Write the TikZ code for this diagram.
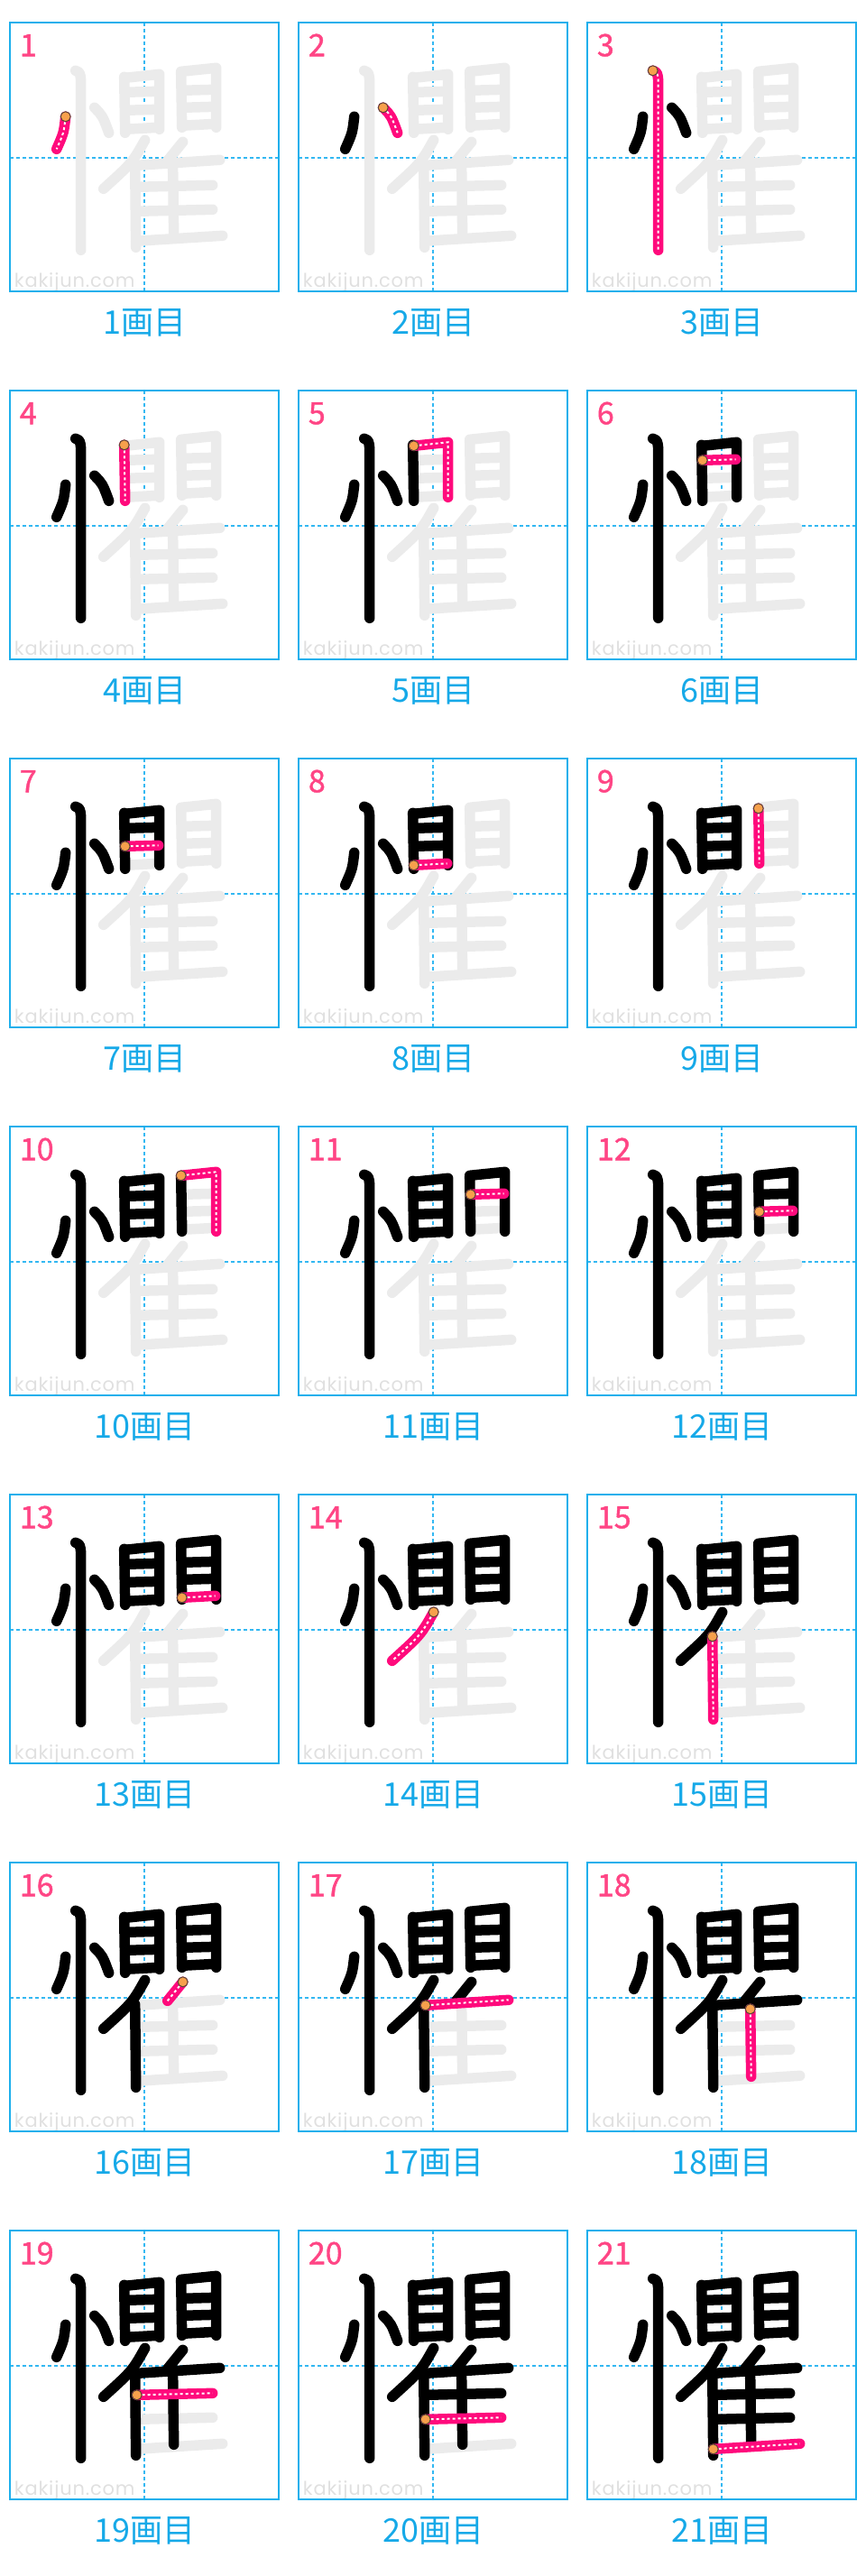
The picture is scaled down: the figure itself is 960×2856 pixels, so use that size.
\documentclass[tikz,border=0pt]{standalone}
\usepackage{fontspec}
\newfontfamily\jpfont{Noto Sans CJK JP}
\newfontfamily\numfont[FakeBold=1.2]{Noto Sans CJK JP}
\newfontfamily\wmfont[LetterSpace=4]{Poppins}

\definecolor{boxblue}{HTML}{1DAFEC}
\definecolor{guideblue}{HTML}{33B8F2}
\definecolor{capblue}{HTML}{16A9E8}
\definecolor{numpink}{HTML}{FF4585}
\definecolor{strokepink}{HTML}{FF0A7C}
\definecolor{ghostgray}{HTML}{EBEBEB}
\definecolor{wmgray}{HTML}{E0E0E0}
\definecolor{startorange}{HTML}{F7A04C}
\definecolor{dotrim}{HTML}{5A4636}

% one path per stroke, cell coordinates (0..298, y down)
\newcommand\defstroke[2]{\expandafter\def\csname kstroke#1\endcsname{#2}}
\defstroke{1}{(62,104) coordinate (st) .. controls (60,122) .. (52,140)}
\defstroke{2}{(94,94) coordinate (st) .. controls (103,103) .. (110,122)}
\defstroke{3}{(73,53) coordinate (st) .. controls (78,55) .. (79,64) -- (79,252)}
\defstroke{4}{(127,60) coordinate (st) -- (128,122)}
\defstroke{5}{(128,61) coordinate (st) -- (166,57) -- (166,118)}
\defstroke{6}{(128,77) coordinate (st) -- (165,76)}
\defstroke{7}{(128,97) coordinate (st) -- (165,96)}
\defstroke{8}{(128,118) coordinate (st) -- (165,116)}
\defstroke{9}{(190,55) coordinate (st) -- (191,116)}
\defstroke{10}{(190,54) coordinate (st) -- (229,50) -- (229,116)}
\defstroke{11}{(191,75) coordinate (st) -- (228,74)}
\defstroke{12}{(191,94) coordinate (st) -- (228,93)}
\defstroke{13}{(191,114) coordinate (st) -- (228,112)}
\defstroke{14}{(150,130) coordinate (st) .. controls (136,155) .. (104,184)}
\defstroke{15}{(139,157) coordinate (st) -- (140,249)}
\defstroke{16}{(192,132) coordinate (st) -- (175,153)}
\defstroke{17}{(141,158) coordinate (st) -- (233,152)}
\defstroke{18}{(181,162) coordinate (st) -- (182,237)}
\defstroke{19}{(141,182) coordinate (st) -- (225,180)}
\defstroke{20}{(141,209) coordinate (st) -- (225,207)}
\defstroke{21}{(140,242) coordinate (st) -- (236,236)}

\tikzset{
  cellbox/.style={draw=boxblue, line width=2pt},
  guide/.style={draw=guideblue, line width=1.8pt, dash pattern=on 4pt off 3pt},
  ghost/.style={draw=ghostgray, line width=11.5pt, line cap=round, line join=round},
  done/.style={draw=black, line width=11.5pt, line cap=round, line join=round},
  current/.style={draw=strokepink, line width=11.5pt, line cap=round, line join=round},
  dots/.style={draw=white, line width=2pt, dash pattern=on 3pt off 3pt},
  startdot/.style={fill=startorange, draw=dotrim, line width=1pt},
  stepnum/.style={anchor=base west, inner sep=0pt, text=numpink, font=\numfont\fontsize{34}{40}\selectfont},
  caption/.style={inner sep=0pt, text=capblue, font=\jpfont\fontsize{36}{42}\selectfont},
  watermark/.style={anchor=base west, inner sep=0pt, text=wmgray, font=\wmfont\fontsize{21}{25}\selectfont}
}

\begin{document}
\begin{tikzpicture}[x=1pt,y=-1pt]
  \useasboundingbox (0,0) rectangle (960,2856);

  \foreach \n in {1,...,21}{
    \pgfmathtruncatemacro\row{(\n-1)/3}
    \pgfmathtruncatemacro\col{\n-1-3*\row}
    \begin{scope}[shift={(10.7+320*\col,25.3+408*\row)}]
      % guide lines and watermark
      \draw[guide] (149.5,0) -- (149.5,298);
      \draw[guide] (0,149.5) -- (298,149.5);
      \node[watermark] (wm\n) at (5,293) {kakijun.com};

      % strokes still to come, then strokes already written
      \foreach \k in {1,...,21}{
        \expandafter\let\expandafter\kpath\csname kstroke\k\endcsname
        \ifnum\k>\n \draw[ghost] \kpath; \fi
      }
      \foreach \k in {1,...,21}{
        \expandafter\let\expandafter\kpath\csname kstroke\k\endcsname
        \ifnum\k<\n \draw[done] \kpath; \fi
      }

      % the stroke of this step
      \expandafter\let\expandafter\kpath\csname kstroke\n\endcsname
      \draw[current] \kpath;
      \draw[dots] \kpath;
      \filldraw[startdot] (st) circle (5.5);

      \draw[cellbox] (0,0) rectangle (298,298);
      \node[stepnum] (num\n) at (11,37) {\n};
      \node[caption] (cap\n) at (149.5,333) {\n{}画目};
    \end{scope}
  }
\end{tikzpicture}
\end{document}
